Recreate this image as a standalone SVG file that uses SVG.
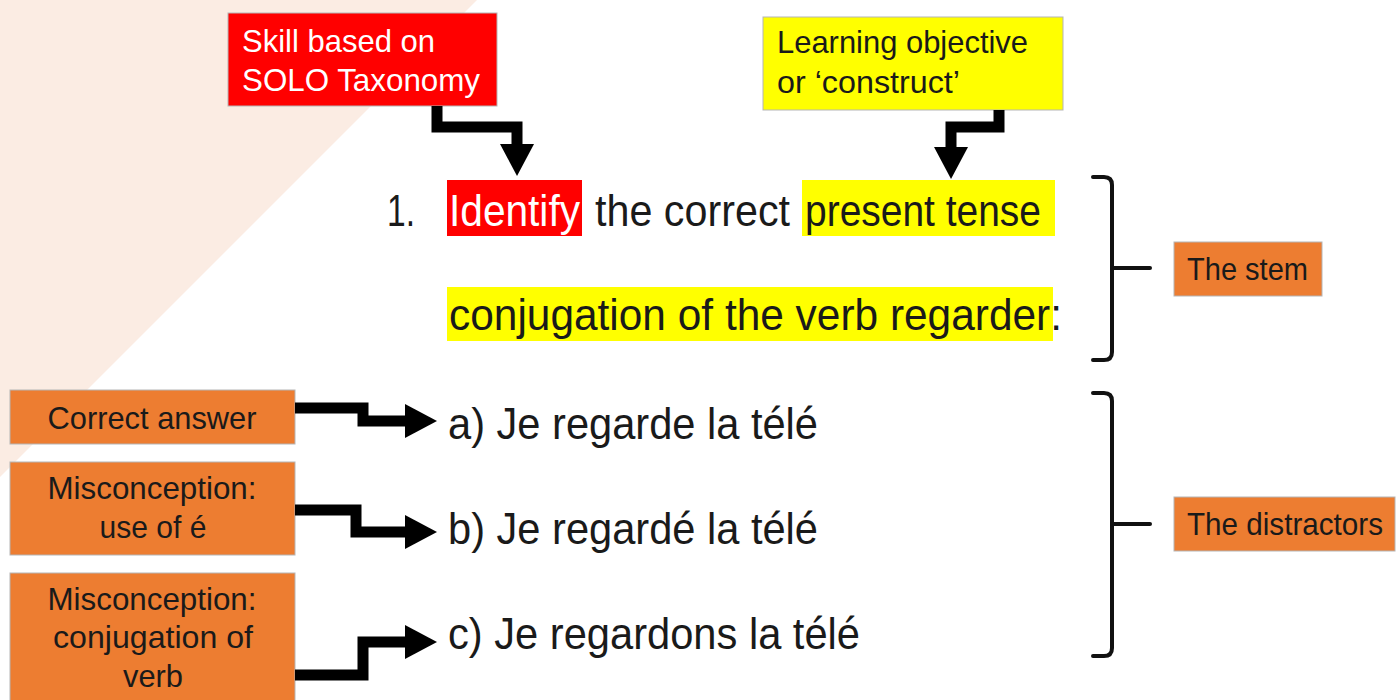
<svg xmlns="http://www.w3.org/2000/svg" width="1396" height="700" viewBox="0 0 1396 700">
<style>
.lbl{font-family:"Liberation Sans",Arial,sans-serif;font-size:32px;fill:#1a1a1a}
.main{font-family:"Liberation Sans",Arial,sans-serif;font-size:45px;fill:#1a1a1a}
text.wht{fill:#ffffff}
.red{fill:#ff0000}
.yel{fill:#ffff00}
.org{fill:#ed7d31}
.box{stroke:#b5b5b5;stroke-width:1}
.conn{fill:none;stroke:#000;stroke-width:11;stroke-linejoin:miter}
.brk{fill:none;stroke:#111;stroke-width:4;stroke-linecap:round;stroke-linejoin:round}
</style>
<defs>
<marker id="arr" markerUnits="userSpaceOnUse" viewBox="0 0 32 34" markerWidth="32" markerHeight="34" refX="0" refY="17" orient="auto">
<path d="M0,0 L32,17 L0,34 Z" fill="#000"/>
</marker>
</defs>
<rect width="1396" height="700" fill="#ffffff"/>
<polygon points="0,0 477,0 0,477" fill="#fbece3"/>

<g id="skill-box">
<rect class="red box" x="228" y="13" width="269" height="93"/>
<text class="lbl wht" x="242" y="52" textLength="193" lengthAdjust="spacingAndGlyphs">Skill based on</text>
<text class="lbl wht" x="242" y="91" textLength="238" lengthAdjust="spacingAndGlyphs">SOLO Taxonomy</text>
</g>

<g id="objective-box">
<rect class="yel box" x="763" y="17" width="300" height="93"/>
<text class="lbl" x="777" y="53" textLength="251" lengthAdjust="spacingAndGlyphs">Learning objective</text>
<text class="lbl" x="777" y="93" textLength="183" lengthAdjust="spacingAndGlyphs">or ‘construct’</text>
</g>

<g id="stem-question">
<rect class="red" x="447" y="180" width="135" height="56"/>
<rect class="yel" x="802" y="180" width="253" height="56"/>
<rect class="yel" x="447" y="287" width="606" height="54"/>
<text class="main" x="387" y="226" textLength="28" lengthAdjust="spacingAndGlyphs">1.</text>
<text class="main wht" x="449" y="226" textLength="131" lengthAdjust="spacingAndGlyphs">Identify</text>
<text class="main" x="595" y="226" textLength="195" lengthAdjust="spacingAndGlyphs">the correct</text>
<text class="main" x="805" y="226" textLength="236" lengthAdjust="spacingAndGlyphs">present tense</text>
<text class="main" x="449" y="330" textLength="613" lengthAdjust="spacingAndGlyphs">conjugation of the verb regarder:</text>
</g>

<g id="answer-a">
<text class="main" x="448" y="439" textLength="370" lengthAdjust="spacingAndGlyphs">a) Je regarde la télé</text>
</g>
<g id="answer-b">
<text class="main" x="448" y="544" textLength="370" lengthAdjust="spacingAndGlyphs">b) Je regardé la télé</text>
</g>
<g id="answer-c">
<text class="main" x="448" y="649" textLength="412" lengthAdjust="spacingAndGlyphs">c) Je regardons la télé</text>
</g>

<g id="correct-box">
<rect class="org box" x="10" y="390" width="285" height="54"/>
<text class="lbl" x="152" y="429" text-anchor="middle" textLength="209" lengthAdjust="spacingAndGlyphs">Correct answer</text>
</g>
<g id="misconception-e-box">
<rect class="org box" x="10" y="462" width="285" height="93"/>
<text class="lbl" x="152" y="499" text-anchor="middle" textLength="209" lengthAdjust="spacingAndGlyphs">Misconception:</text>
<text class="lbl" x="153" y="538" text-anchor="middle" textLength="107" lengthAdjust="spacingAndGlyphs">use of é</text>
</g>
<g id="misconception-conj-box">
<rect class="org box" x="10" y="573" width="285" height="140"/>
<text class="lbl" x="152" y="610" text-anchor="middle" textLength="209" lengthAdjust="spacingAndGlyphs">Misconception:</text>
<text class="lbl" x="153" y="648" text-anchor="middle" textLength="200" lengthAdjust="spacingAndGlyphs">conjugation of</text>
<text class="lbl" x="153" y="687" text-anchor="middle" textLength="60" lengthAdjust="spacingAndGlyphs">verb</text>
</g>

<g id="stem-label">
<rect class="org box" x="1174" y="242" width="148" height="54"/>
<text class="lbl" x="1187" y="280" textLength="121" lengthAdjust="spacingAndGlyphs">The stem</text>
</g>
<g id="distractors-label">
<rect class="org box" x="1174" y="497" width="221" height="54"/>
<text class="lbl" x="1187" y="535" textLength="196" lengthAdjust="spacingAndGlyphs">The distractors</text>
</g>

<g id="connectors">
<path class="conn" d="M437,106 V127 H517 V144" marker-end="url(#arr)"/>
<path class="conn" d="M999,110 V127 H951 V147" marker-end="url(#arr)"/>
<path class="conn" d="M295,408 H363 V421 H405" marker-end="url(#arr)"/>
<path class="conn" d="M295,510 H356 V532 H405" marker-end="url(#arr)"/>
<path class="conn" d="M295,675 H363 V642 H405" marker-end="url(#arr)"/>
<path class="brk" d="M1093,177 H1104 Q1112,177 1112,185 V352 Q1112,360 1104,360 H1093"/>
<path class="brk" d="M1112,268 H1150"/>
<path class="brk" d="M1093,393 H1104 Q1112,393 1112,401 V648 Q1112,656 1104,656 H1093"/>
<path class="brk" d="M1112,524 H1150"/>
</g>
</svg>
